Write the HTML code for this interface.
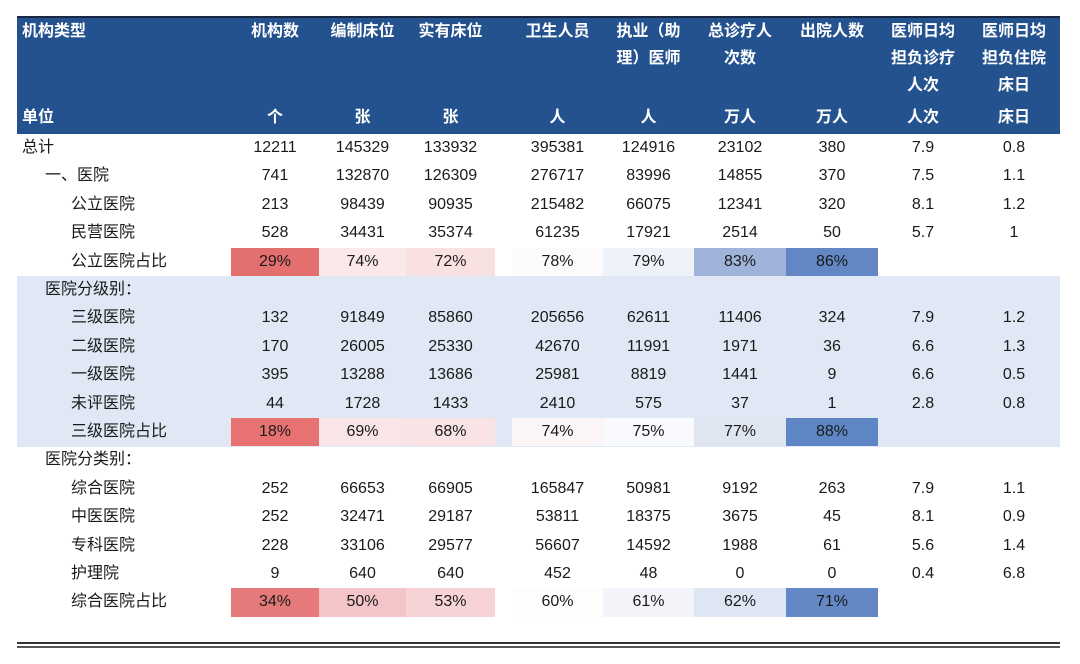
<!DOCTYPE html>
<html><head><meta charset="utf-8"><style>
body{margin:0;width:1080px;height:664px;background:#fff;position:relative;overflow:hidden;font-family:"Liberation Sans","Noto Sans CJK SC",sans-serif;}
.hd{position:absolute;left:17px;top:16px;width:1043px;height:118px;background:#24528e;border-top:2px solid #1a2740;box-sizing:border-box;}
.band{position:absolute;left:17px;top:276px;width:1043px;height:171px;background:#dfe8f4;}
.h{position:absolute;color:#fff;font-weight:bold;font-size:16px;line-height:27px;text-align:center;}
.c{position:absolute;font-size:16px;color:#1a1a1a;height:28.4px;line-height:28.4px;text-align:center;}
.l{position:absolute;font-size:16px;color:#1a1a1a;height:28.4px;line-height:28.4px;}
.line1{position:absolute;left:17px;top:642px;width:1043px;height:2px;background:#333;}
.line2{position:absolute;left:17px;top:646px;width:1043px;height:2px;background:#555;}
</style></head><body>
<div class="hd"></div>
<div class="band"></div>
<div id="c"></div>
<div class="line1"></div><div class="line2"></div>
<script>
var cols=[[231,319],[319,406],[406,495],[512,603],[603,694],[694,786],[786,878],[878,968],[968,1060]];
var heads=["机构数","编制床位","实有床位","卫生人员","执业（助<br>理）医师","总诊疗人<br>次数","出院人数","医师日均<br>担负诊疗<br>人次","医师日均<br>担负住院<br>床日"];
var units=["个","张","张","人","人","万人","万人","人次","床日"];
var h='<div class="h" style="left:22px;top:18px;text-align:left">机构类型</div><div class="h" style="left:22px;top:104px;text-align:left">单位</div>';
for(var i=0;i<9;i++){var a=cols[i][0],w=cols[i][1]-a;
h+='<div class="h" style="left:'+(a-10)+'px;width:'+(w+20)+'px;top:18px">'+heads[i]+'</div>';
h+='<div class="h" style="left:'+a+'px;width:'+w+'px;top:104px">'+units[i]+'</div>';}
var rows=[
[22,"总计",["12211","145329","133932","395381","124916","23102","380","7.9","0.8"]],
[45,"一、医院",["741","132870","126309","276717","83996","14855","370","7.5","1.1"]],
[71,"公立医院",["213","98439","90935","215482","66075","12341","320","8.1","1.2"]],
[71,"民营医院",["528","34431","35374","61235","17921","2514","50","5.7","1"]],
[71,"公立医院占比",["29%","74%","72%","78%","79%","83%","86%","",""],["#e46f6f","#fbe9ea","#f9e1e2","#fdfafb","#eef2f9","#9fb3db","#6387c4"]],
[45,"医院分级别：",[]],
[71,"三级医院",["132","91849","85860","205656","62611","11406","324","7.9","1.2"]],
[71,"二级医院",["170","26005","25330","42670","11991","1971","36","6.6","1.3"]],
[71,"一级医院",["395","13288","13686","25981","8819","1441","9","6.6","0.5"]],
[71,"未评医院",["44","1728","1433","2410","575","37","1","2.8","0.8"]],
[71,"三级医院占比",["18%","69%","68%","74%","75%","77%","88%","",""],["#e87272","#f9e5e8","#f9e3e5","#fbf5f7","#f9fafd","#dfe6f2","#5f86c4"]],
[45,"医院分类别：",[]],
[71,"综合医院",["252","66653","66905","165847","50981","9192","263","7.9","1.1"]],
[71,"中医医院",["252","32471","29187","53811","18375","3675","45","8.1","0.9"]],
[71,"专科医院",["228","33106","29577","56607","14592","1988","61","5.6","1.4"]],
[71,"护理院",["9","640","640","452","48","0","0","0.4","6.8"]],
[71,"综合医院占比",["34%","50%","53%","60%","61%","62%","71%","",""],["#e67a7a","#f4c5c8","#f7d3d6","#fdfdfe","#f2f4fa","#dfe6f3","#6388c5"]]];
for(var r=0;r<rows.length;r++){var y=134+r*28.4,R=rows[r];
h+='<div class="l" style="left:'+R[0]+'px;top:'+y+'px">'+R[1]+'</div>';
for(var i=0;i<R[2].length;i++){var a=cols[i][0],w=cols[i][1]-a,bg='';
if(R[3]&&R[3][i]){bg='background:'+R[3][i]+';';}
if(bg)h+='<div class="c" style="left:'+a+'px;width:'+w+'px;top:'+y+'px;'+bg+'"></div>';
h+='<div class="c" style="left:'+a+'px;width:'+w+'px;top:'+y+'px">'+R[2][i]+'</div>';}}
document.getElementById('c').innerHTML=h;
</script>
</body></html>
